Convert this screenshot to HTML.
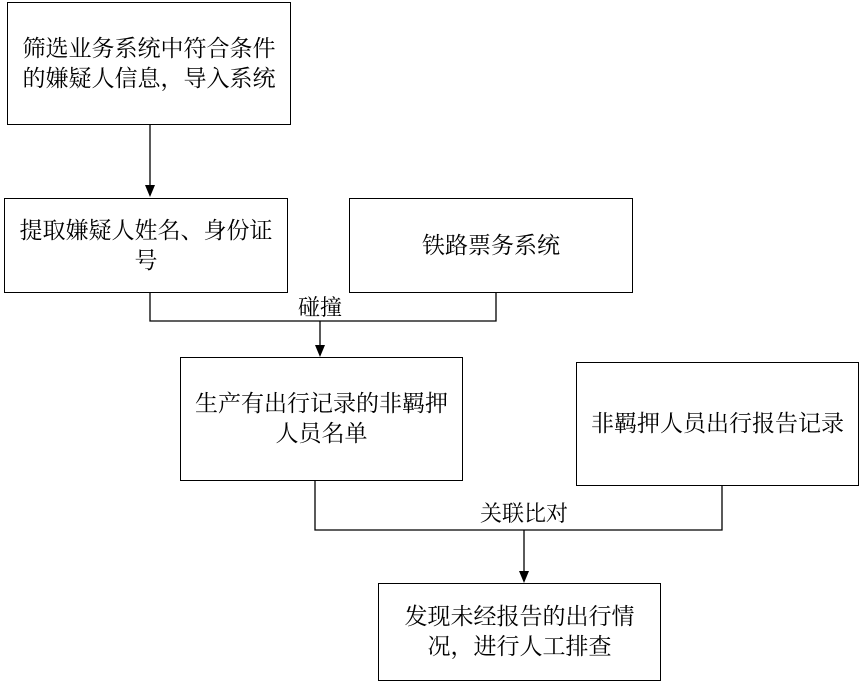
<!DOCTYPE html>
<html><head><meta charset="utf-8"><style>
body{margin:0;background:#fff;width:861px;height:682px;overflow:hidden;position:relative;font-family:"Liberation Serif","Noto Serif CJK SC",serif;}
.b{position:absolute;border:1.3px solid #000;box-sizing:border-box;display:flex;align-items:center;justify-content:center;text-align:center;font-size:23px;line-height:30px;color:#000;padding:0 6px;}
.t{position:absolute;font-size:22px;background:#fff;line-height:24px;padding:0 2px;}
</style></head><body>
<svg width="861" height="682" style="position:absolute;left:0;top:0">
<g stroke="#000" stroke-width="1.3" fill="none">
<line x1="150" y1="124" x2="150" y2="186"/>
<polyline points="150,292 150,321 496,321 496,292"/>
<line x1="320" y1="321" x2="320" y2="346"/>
<polyline points="315,480 315,530 722,530 722,485"/>
<line x1="524" y1="530" x2="524" y2="572"/>
</g>
<path d="M145,185 L155,185 L150,197 z" fill="#000"/>
<path d="M315,345 L325,345 L320,357 z" fill="#000"/>
<path d="M519,571 L529,571 L524,583 z" fill="#000"/>
</svg>
<div class="b" style="left:7px;top:2px;width:284px;height:123px;">筛选业务系统中符合条件的嫌疑人信息，导入系统</div>
<div class="b" style="left:4px;top:198px;width:284px;height:95px;">提取嫌疑人姓名、身份证号</div>
<div class="b" style="left:349px;top:198px;width:284px;height:95px;">铁路票务系统</div>
<div class="b" style="left:180px;top:357px;width:283px;height:124px;padding:0 14px;">生产有出行记录的非羁押人员名单</div>
<div class="b" style="left:576px;top:362px;width:283px;height:124px;">非羁押人员出行报告记录</div>
<div class="b" style="left:378px;top:583px;width:283px;height:98px;padding:0 18px;">发现未经报告的出行情况，进行人工排查</div>
<div class="t" style="left:296px;top:296px;">碰撞</div>
<div class="t" style="left:478px;top:502px;">关联比对</div>
</body></html>
